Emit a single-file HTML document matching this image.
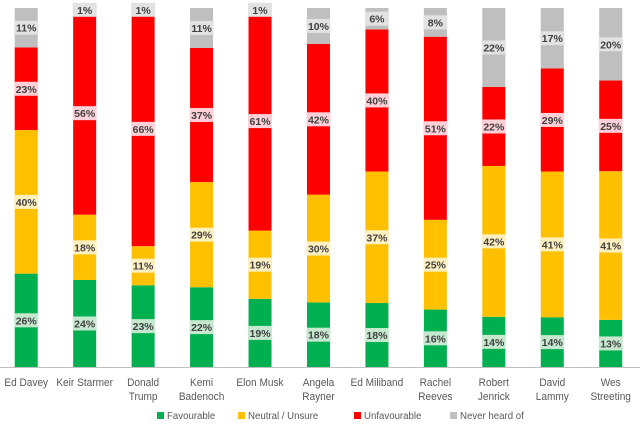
<!DOCTYPE html>
<html><head><meta charset="utf-8"><style>
body{margin:0;background:#fff;font-family:"Liberation Sans",sans-serif;}
svg text{font-family:"Liberation Sans",sans-serif;}
</style></head><body>
<svg id="c" width="640" height="422"></svg>
<script>
const categories=[["Ed Davey"],["Keir Starmer"],["Donald","Trump"],["Kemi","Badenoch"],["Elon Musk"],["Angela","Rayner"],["Ed Miliband"],["Rachel","Reeves"],["Robert","Jenrick"],["David","Lammy"],["Wes","Streeting"]];
const favourable=[26,24,23,22,19,18,18,16,14,14,13];
const neutral=[40,18,11,29,19,30,37,25,42,41,41];
const unfavourable=[23,56,66,37,61,42,40,51,22,29,25];
const neverHeard=[11,1,1,11,1,10,6,8,22,17,20];
const seriesNames=["Favourable","Neutral / Unsure","Unfavourable","Never heard of"];
const colors=["#00b050","#ffc000","#ff0000","#bfbfbf"];
const labelBg=["#c6e8cf","#fff0c0","#ffd0d8","#e2e2e2"];
const series=[favourable,neutral,unfavourable,neverHeard];
const NS="http://www.w3.org/2000/svg";
const svg=document.getElementById('c');
const x0=-3,step=58.45,bw=23,yTop=8,yBot=367;
function xc(i){return x0+step*(i+0.5);}
function y(f){return yBot-(yBot-yTop)*f;}
function mk(t,a){const e=document.createElementNS(NS,t);for(const k in a)e.setAttribute(k,a[k]);svg.appendChild(e);return e;}
categories.forEach((cat,i)=>{
  const tot=series.reduce((s,a)=>s+a[i],0);
  let cum=0;
  series.forEach((arr,s)=>{
    const v=arr[i];const f0=cum/tot,f1=(cum+v)/tot;cum+=v;
    const r=mk('rect',{x:xc(i)-bw/2,y:y(f1),width:bw,height:y(f0)-y(f1),fill:colors[s]});
    
    
    const ym=(y(f0)+y(f1))/2;
    const lb=mk('rect',{x:xc(i)-12,y:ym-7,width:24,height:14,fill:labelBg[s]});
    
    
    const t=mk('text',{x:xc(i),y:ym+4,'text-anchor':'middle','font-size':'10.5','font-weight':'bold',fill:'#404040'});
    t.textContent=v+'%';
    
    
  });
  cat.forEach((ln,j)=>{
    const t=mk('text',{x:xc(i),y:386+j*14,'text-anchor':'middle','font-size':'11',fill:'#595959',transform:'translate('+xc(i)+',0) scale(0.92,1) translate('+(-xc(i))+',0)'});
    t.textContent=ln;
    
    
  });
});
const ax=mk('line',{x1:0,x2:640,y1:yBot+0.5,y2:yBot+0.5,stroke:'#bfbfbf','stroke-width':1});


const lx=[157,238,354,450];
seriesNames.forEach((n,s)=>{
  const r=mk('rect',{x:lx[s],y:412,width:7,height:7,fill:colors[s]});
  
  
  const t=mk('text',{x:lx[s]+10,y:419,'font-size':'10.5',fill:'#595959',transform:'translate('+(lx[s]+10)+',0) scale(0.92,1) translate('+(-(lx[s]+10))+',0)'});
  t.textContent=n;
  
  
});
</script>
</body></html>
